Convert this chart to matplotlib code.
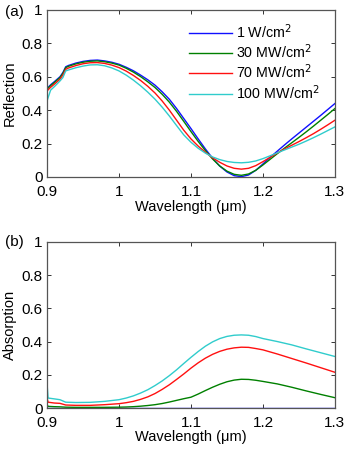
"""
Reflection / absorption spectra at four pump intensities.
"""

import matplotlib
matplotlib.use('Agg')
import matplotlib.pyplot as plt

plt.rcParams['font.family'] = ['Liberation Sans', 'DejaVu Sans']

# ── Data ──────────────────────────────────────────────────────
LABELS = ['1 W/cm$^2$', '30 MW/cm$^2$', '70 MW/cm$^2$', '100 MW/cm$^2$']
COLORS = ['#1010ff', '#008000', '#ff1010', '#30cccc']

WL_R = [0.900, 0.905, 0.910, 0.918, 0.922, 0.926, 0.930, 0.940, 0.950,
        0.960, 0.970, 0.980, 0.990, 1.000, 1.010, 1.020, 1.030, 1.040,
        1.050, 1.060, 1.070, 1.080, 1.090, 1.100, 1.110, 1.120, 1.130,
        1.140, 1.150, 1.160, 1.170, 1.180, 1.190, 1.200, 1.210, 1.220,
        1.230, 1.240, 1.250, 1.260, 1.270, 1.280, 1.290, 1.300]

REFL_1W = [0.530, 0.552, 0.570, 0.600, 0.625, 0.660, 0.668, 0.682, 0.692,
           0.698, 0.700, 0.695, 0.687, 0.675, 0.657, 0.636, 0.610, 0.582,
           0.550, 0.510, 0.465, 0.410, 0.350, 0.290, 0.228, 0.168, 0.112,
           0.065, 0.030, 0.008, 0.002, 0.012, 0.040, 0.078, 0.118, 0.155,
           0.192, 0.228, 0.263, 0.298, 0.333, 0.368, 0.404, 0.440]
REFL_30 = [0.525, 0.547, 0.565, 0.595, 0.620, 0.655, 0.663, 0.677, 0.687,
           0.693, 0.695, 0.690, 0.682, 0.670, 0.651, 0.628, 0.601, 0.570,
           0.536, 0.495, 0.448, 0.393, 0.333, 0.272, 0.213, 0.158, 0.108,
           0.066, 0.035, 0.016, 0.010, 0.018, 0.040, 0.072, 0.106, 0.140,
           0.173, 0.205, 0.237, 0.270, 0.304, 0.339, 0.374, 0.410]
REFL_70 = [0.515, 0.537, 0.555, 0.585, 0.610, 0.645, 0.653, 0.667, 0.678,
           0.684, 0.685, 0.680, 0.670, 0.655, 0.634, 0.608, 0.578, 0.543,
           0.503, 0.455, 0.400, 0.340, 0.280, 0.228, 0.185, 0.148, 0.115,
           0.088, 0.066, 0.052, 0.047, 0.052, 0.068, 0.092, 0.118, 0.144,
           0.168, 0.190, 0.212, 0.235, 0.259, 0.285, 0.312, 0.340]
REFL_100 = [0.455, 0.520, 0.540, 0.575, 0.595, 0.635, 0.641, 0.654, 0.664,
            0.671, 0.672, 0.666, 0.653, 0.635, 0.610, 0.580, 0.546, 0.508,
            0.466, 0.418, 0.365, 0.308, 0.252, 0.208, 0.172, 0.143, 0.120,
            0.104, 0.093, 0.087, 0.085, 0.088, 0.096, 0.110, 0.127, 0.145,
            0.162, 0.179, 0.196, 0.215, 0.235, 0.256, 0.278, 0.300]

WL_A = [0.900, 0.9015, 0.910, 0.918, 0.926, 0.940, 0.960, 0.980, 1.000,
        1.010, 1.020, 1.030, 1.040, 1.050, 1.060, 1.070, 1.080, 1.090,
        1.100, 1.110, 1.120, 1.130, 1.140, 1.150, 1.160, 1.170, 1.180,
        1.190, 1.200, 1.220, 1.240, 1.260, 1.280, 1.300]

ABS_1W = [0.003] * len(WL_A)
ABS_30 = [0.020, 0.010, 0.008, 0.007, 0.005, 0.004, 0.004, 0.004, 0.005,
          0.006, 0.008, 0.011, 0.015, 0.020, 0.027, 0.036, 0.046, 0.056,
          0.065, 0.084, 0.105, 0.125, 0.143, 0.158, 0.168, 0.173, 0.172,
          0.167, 0.160, 0.145, 0.125, 0.103, 0.082, 0.062]
ABS_70 = [0.060, 0.035, 0.030, 0.028, 0.018, 0.016, 0.016, 0.020, 0.026,
          0.032, 0.040, 0.052, 0.067, 0.087, 0.112, 0.140, 0.172, 0.205,
          0.240, 0.272, 0.300, 0.323, 0.341, 0.354, 0.362, 0.366, 0.365,
          0.358, 0.350, 0.325, 0.298, 0.271, 0.243, 0.215]
ABS_100 = [0.150, 0.060, 0.055, 0.050, 0.035, 0.033, 0.034, 0.040, 0.050,
           0.060, 0.073, 0.090, 0.110, 0.135, 0.163, 0.195, 0.230, 0.268,
           0.305, 0.340, 0.372, 0.398, 0.418, 0.431, 0.438, 0.440, 0.438,
           0.430, 0.418, 0.400, 0.380, 0.356, 0.333, 0.310]

X_TICKS = [0.9, 1.0, 1.1, 1.2, 1.3]
X_TICKLABELS = ['0.9', '1', '1.1', '1.2', '1.3']
Y_TICKS = [0, 0.2, 0.4, 0.6, 0.8, 1.0]
Y_TICKLABELS = ['0', '0.2', '0.4', '0.6', '0.8', '1']


def style_axes(ax, ylabel):
    ax.set_xlim(0.9, 1.3)
    ax.set_ylim(0, 1)
    ax.set_xticks(X_TICKS)
    ax.set_xticklabels(X_TICKLABELS)
    ax.set_yticks(Y_TICKS)
    ax.set_yticklabels(Y_TICKLABELS)
    ax.tick_params(direction='in', length=3, width=0.7, labelsize=11,
                   top=True, right=True, colors='#333333', labelcolor='black')
    ax.tick_params(axis='x', pad=5.5)
    ax.tick_params(axis='y', pad=3)
    for sp in ax.spines.values():
        sp.set_color('#555555')
        sp.set_linewidth(0.9)
    ax.set_xlabel('Wavelength (μm)', fontsize=10.5)
    ax.set_ylabel(ylabel, fontsize=10.5)
    ax.xaxis.set_label_coords(0.5, -0.135)
    ax.yaxis.set_label_coords(-0.104, 0.5)


fig = plt.figure(figsize=(3.49, 4.49), dpi=100)
ax1 = fig.add_axes([0.1347, 0.6058, 0.825, 0.372])
ax2 = fig.add_axes([0.1347, 0.0913, 0.825, 0.370])

for y, c, lab in zip([REFL_1W, REFL_30, REFL_70, REFL_100], COLORS, LABELS):
    ax1.plot(WL_R, y, color=c, lw=1.0, label=lab)
for y, c in zip([ABS_1W, ABS_30, ABS_70, ABS_100], COLORS):
    ax2.plot(WL_A, y, color=c, lw=1.0)

style_axes(ax1, 'Reflection')
style_axes(ax2, 'Absorption')

ax1.legend(loc='upper right', frameon=False, fontsize=10.3,
           handlelength=3.0, handletextpad=0.3, labelspacing=0.12,
           borderaxespad=0.45, bbox_to_anchor=(0.99, 1.0))

fig.text(0.014, 0.973, '(a)', fontsize=11, va='center')
fig.text(0.014, 0.461, '(b)', fontsize=11, va='center')

fig.savefig('out.png', dpi=100)
